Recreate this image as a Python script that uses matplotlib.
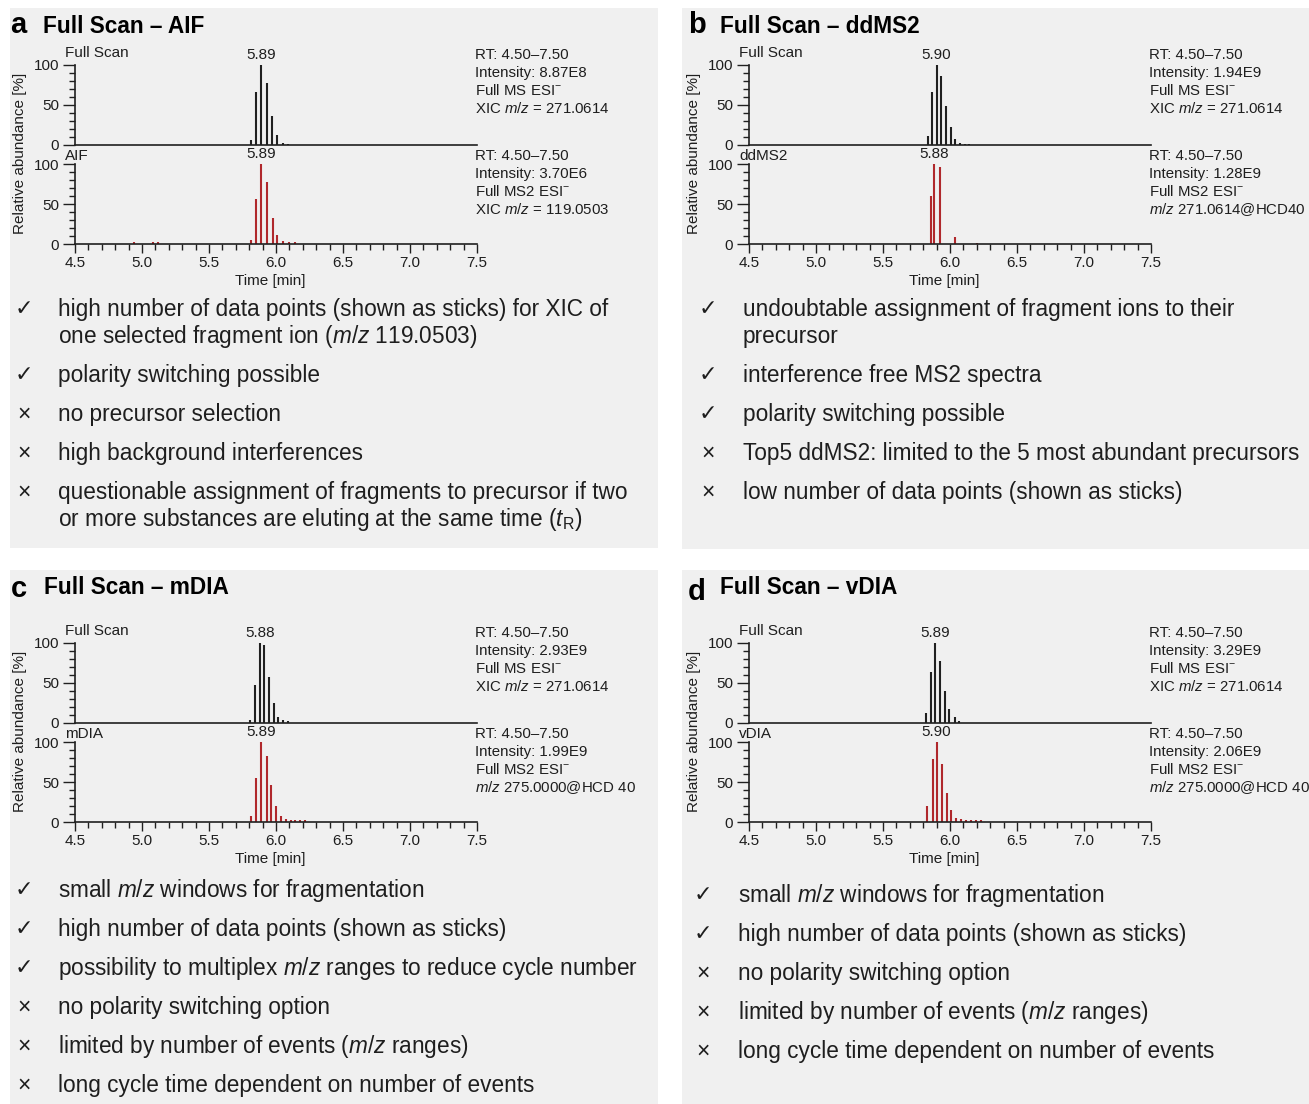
import matplotlib
matplotlib.use("Agg")
import matplotlib.pyplot as plt
from matplotlib.patches import Rectangle
from matplotlib.ticker import MultipleLocator

plt.rcParams['font.family'] = ['Liberation Sans', 'DejaVu Sans']
plt.rcParams['mathtext.fontset'] = 'custom'
plt.rcParams['mathtext.rm'] = 'Liberation Sans'
plt.rcParams['mathtext.it'] = 'Liberation Sans:italic'
plt.rcParams['mathtext.bf'] = 'Liberation Sans:bold'

# ---------------- data ----------------
panel_letters = ['a', 'b', 'c', 'd']
panel_titles = ['Full Scan \u2013 AIF', 'Full Scan \u2013 ddMS2', 'Full Scan \u2013 mDIA', 'Full Scan \u2013 vDIA']
lower_names = ['AIF', 'ddMS2', 'mDIA', 'vDIA']

# Full scan traces (time [min], relative abundance [%])
a_full_t = [5.81, 5.85, 5.89, 5.93, 5.97, 6.01, 6.05, 6.09]
a_full_y = [6, 66, 100, 78, 36, 13, 3, 1]
a_ms2_t = [4.94, 5.08, 5.12, 5.81, 5.85, 5.89, 5.93, 5.98, 6.01, 6.05, 6.10, 6.14]
a_ms2_y = [3, 2.5, 2.5, 5, 56, 100, 78, 32, 11, 4, 2.5, 2.5]

b_full_t = [5.835, 5.865, 5.90, 5.935, 5.97, 6.01, 6.04, 6.075, 6.11, 6.145]
b_full_y = [11, 66, 100, 86, 49, 22, 8, 2, 1, 1]
b_ms2_t = [5.855, 5.88, 5.925, 6.04, 6.20]
b_ms2_y = [60, 100, 96, 9, 1]

c_full_t = [5.805, 5.845, 5.88, 5.91, 5.95, 5.985, 6.015, 6.055, 6.09]
c_full_y = [4, 48, 100, 97, 57, 25, 8, 4, 2]
c_ms2_t = [5.815, 5.85, 5.89, 5.93, 5.96, 6.0, 6.04, 6.075, 6.11, 6.145, 6.18, 6.22]
c_ms2_y = [8, 55, 100, 83, 46, 20, 7, 4, 2.5, 2.5, 2.5, 2.5]

d_full_t = [5.82, 5.855, 5.89, 5.925, 5.96, 5.995, 6.035, 6.07]
d_full_y = [12, 64, 100, 78, 40, 17, 7, 2]
d_ms2_t = [5.83, 5.87, 5.90, 5.94, 5.975, 6.005, 6.045, 6.085, 6.12, 6.16, 6.195, 6.235]
d_ms2_y = [20, 79, 100, 73, 36, 15, 5, 4, 2, 2, 2, 2]

full_peak_labels = ['5.89', '5.90', '5.88', '5.89']
ms2_peak_labels = ['5.89', '5.88', '5.89', '5.90']

full_info = [
    ['RT: 4.50\u20137.50', 'Intensity: 8.87E8', 'Full MS ESI$^{-}$', 'XIC $\\mathit{m/z}$ = 271.0614'],
    ['RT: 4.50\u20137.50', 'Intensity: 1.94E9', 'Full MS ESI$^{-}$', 'XIC $\\mathit{m/z}$ = 271.0614'],
    ['RT: 4.50\u20137.50', 'Intensity: 2.93E9', 'Full MS ESI$^{-}$', 'XIC $\\mathit{m/z}$ = 271.0614'],
    ['RT: 4.50\u20137.50', 'Intensity: 3.29E9', 'Full MS ESI$^{-}$', 'XIC $\\mathit{m/z}$ = 271.0614'],
]
ms2_info = [
    ['RT: 4.50\u20137.50', 'Intensity: 3.70E6', 'Full MS2 ESI$^{-}$', 'XIC $\\mathit{m/z}$ = 119.0503'],
    ['RT: 4.50\u20137.50', 'Intensity: 1.28E9', 'Full MS2 ESI$^{-}$', '$\\mathit{m/z}$ 271.0614@HCD40'],
    ['RT: 4.50\u20137.50', 'Intensity: 1.99E9', 'Full MS2 ESI$^{-}$', '$\\mathit{m/z}$ 275.0000@HCD 40'],
    ['RT: 4.50\u20137.50', 'Intensity: 2.06E9', 'Full MS2 ESI$^{-}$', '$\\mathit{m/z}$ 275.0000@HCD 40'],
]

CHECK, CROSS = '\u2713', '\u00d7'
a_bullets = [
    (CHECK, ['high number of data points (shown as sticks) for XIC of',
             'one selected fragment ion ($\\mathit{m/z}$ 119.0503)']),
    (CHECK, ['polarity switching possible']),
    (CROSS, ['no precursor selection']),
    (CROSS, ['high background interferences']),
    (CROSS, ['questionable assignment of fragments to precursor if two',
             'or more substances are eluting at the same time ($\\mathit{t}_\\mathrm{R}$)']),
]
b_bullets = [
    (CHECK, ['undoubtable assignment of fragment ions to their', 'precursor']),
    (CHECK, ['interference free MS2 spectra']),
    (CHECK, ['polarity switching possible']),
    (CROSS, ['Top5 ddMS2: limited to the 5 most abundant precursors']),
    (CROSS, ['low number of data points (shown as sticks)']),
]
c_bullets = [
    (CHECK, ['small $\\mathit{m/z}$ windows for fragmentation']),
    (CHECK, ['high number of data points (shown as sticks)']),
    (CHECK, ['possibility to multiplex $\\mathit{m/z}$ ranges to reduce cycle number']),
    (CROSS, ['no polarity switching option']),
    (CROSS, ['limited by number of events ($\\mathit{m/z}$ ranges)']),
    (CROSS, ['long cycle time dependent on number of events']),
]
d_bullets = [
    (CHECK, ['small $\\mathit{m/z}$ windows for fragmentation']),
    (CHECK, ['high number of data points (shown as sticks)']),
    (CROSS, ['no polarity switching option']),
    (CROSS, ['limited by number of events ($\\mathit{m/z}$ ranges)']),
    (CROSS, ['long cycle time dependent on number of events']),
]

full_data = [(a_full_t, a_full_y), (b_full_t, b_full_y), (c_full_t, c_full_y), (d_full_t, d_full_y)]
ms2_data = [(a_ms2_t, a_ms2_y), (b_ms2_t, b_ms2_y), (c_ms2_t, c_ms2_y), (d_ms2_t, d_ms2_y)]
bullets = [a_bullets, b_bullets, c_bullets, d_bullets]

# ---------------- layout ----------------
W, H = 1309, 1104
fig = plt.figure(figsize=(W / 100, H / 100), dpi=100)
fig.patch.set_facecolor('white')


def fx(x):
    return x / W


def fy(y):
    return 1 - y / H


BG = '#f0f0f0'
TXT = '#1e1e1e'
RED = '#b0282c'
DARK = '#202020'

panel_boxes = [(10, 8, 658, 548), (682, 8, 1309, 549), (10, 570, 658, 1104), (682, 570, 1309, 1104)]
offsets = [(0, 0), (674, 0), (0, 578), (674, 578)]
title_pos = [((10, 33), (43, 33)), ((688, 33), (720, 33)), ((11, 597), (44, 594)), ((688, 600), (720, 594))]
bullet_start = [316, 316, 897, 902]
bullet_sym_x = [24, 708, 24, 703]
bullet_txt_x = [58, 743, 58, 738]

for (x0, y0, x1, y1) in panel_boxes:
    fig.patches.append(Rectangle((fx(x0), fy(y1)), fx(x1) - fx(x0), fy(y0) - fy(y1),
                                 transform=fig.transFigure, facecolor=BG, edgecolor='none', zorder=-10))

CH = 11  # chart font size


def style_axis(ax):
    ax.set_xlim(4.5, 7.5)
    ax.set_ylim(0, 100)
    ax.patch.set_alpha(0)
    for s in ['top', 'right']:
        ax.spines[s].set_visible(False)
    for s in ['left', 'bottom']:
        ax.spines[s].set_linewidth(1.2)
        ax.spines[s].set_color(DARK)
    ax.set_yticks([0, 50, 100])
    ax.yaxis.set_minor_locator(MultipleLocator(10))
    ax.tick_params(axis='y', which='major', length=8.5, width=1.0, pad=3, labelsize=CH,
                   color=DARK, labelcolor=TXT)
    ax.tick_params(axis='y', which='minor', length=4, width=1.0, color=DARK)


for i in range(4):
    dx, dy = offsets[i]
    L, R = 75 + dx, 477 + dx
    # top (full scan) axis
    axt = fig.add_axes([fx(L), fy(145 + dy), fx(R) - fx(L), fy(65 + dy) - fy(145 + dy)])
    axt.set_zorder(1)
    style_axis(axt)
    axt.tick_params(axis='x', which='both', bottom=False, labelbottom=False)
    t, y = full_data[i]
    axt.vlines(t, 0, y, colors=DARK, linewidth=1.5)
    k = y.index(max(y))
    axt.text(t[k], 104, full_peak_labels[i], ha='center', va='bottom', fontsize=CH, color=TXT, clip_on=False)

    # bottom (MS2) axis
    axb = fig.add_axes([fx(L), fy(244 + dy), fx(R) - fx(L), fy(164 + dy) - fy(244 + dy)])
    axb.set_zorder(1)
    style_axis(axb)
    axb.set_xticks([4.5, 5.0, 5.5, 6.0, 6.5, 7.0, 7.5])
    axb.set_xticklabels(['4.5', '5.0', '5.5', '6.0', '6.5', '7.0', '7.5'])
    axb.xaxis.set_minor_locator(MultipleLocator(0.1))
    axb.tick_params(axis='x', which='major', length=6.5, width=1.0, pad=2, labelsize=CH,
                    color=DARK, labelcolor=TXT)
    axb.tick_params(axis='x', which='minor', length=4.5, width=1.0, color=DARK)
    t, y = ms2_data[i]
    axb.vlines(t, 0, y, colors=RED, linewidth=1.5)
    k = y.index(max(y))
    axb.text(t[k], 104, ms2_peak_labels[i], ha='center', va='bottom', fontsize=CH, color=TXT, clip_on=False)

    # labels
    fig.text(fx(L - 10), fy(57 + dy), 'Full Scan', fontsize=CH, color=TXT, va='baseline')
    fig.text(fx(L - 10), fy(160 + dy), lower_names[i], fontsize=CH, color=TXT, va='baseline')
    fig.text(fx(20 + dx), fy(153 + dy), 'Relative abundance [%]', rotation=90, fontsize=CH,
             color=TXT, ha='center', va='center')
    fig.text(fx(270 + dx), fy(285 + dy), 'Time [min]', fontsize=CH, color=TXT, ha='center', va='baseline')
    for j, line in enumerate(full_info[i]):
        fig.text(fx(R - 2), fy(59 + 18 * j + dy), line, fontsize=10.8, color=TXT, va='baseline')
    for j, line in enumerate(ms2_info[i]):
        fig.text(fx(R - 2), fy(160 + 18 * j + dy), line, fontsize=10.8, color=TXT, va='baseline')

    # title
    (lx, ly), (tx, ty) = title_pos[i]
    fig.text(fx(lx), fy(ly), panel_letters[i], fontsize=21, fontweight='bold', color='black', va='baseline')
    fig.text(fx(tx), fy(ty), panel_titles[i], fontsize=16.3, fontweight='bold', color='black', va='baseline')

    # bullets
    yb = bullet_start[i]
    for sym, lines in bullets[i]:
        if sym == CHECK:
            fig.text(fx(bullet_sym_x[i]), fy(yb - 1), sym, fontsize=16, color=TXT, ha='center', va='baseline',
                     family=['DejaVu Sans'])
        else:
            fig.text(fx(bullet_sym_x[i]), fy(yb), sym, fontsize=16.5, color=TXT, ha='center', va='baseline')
        for j, line in enumerate(lines):
            fig.text(fx(bullet_txt_x[i]), fy(yb + 27 * j), line, fontsize=16.3, color=TXT, va='baseline')
        yb += 27 * (len(lines) - 1) + 39

fig.savefig('out.png', dpi=100, facecolor='white')
